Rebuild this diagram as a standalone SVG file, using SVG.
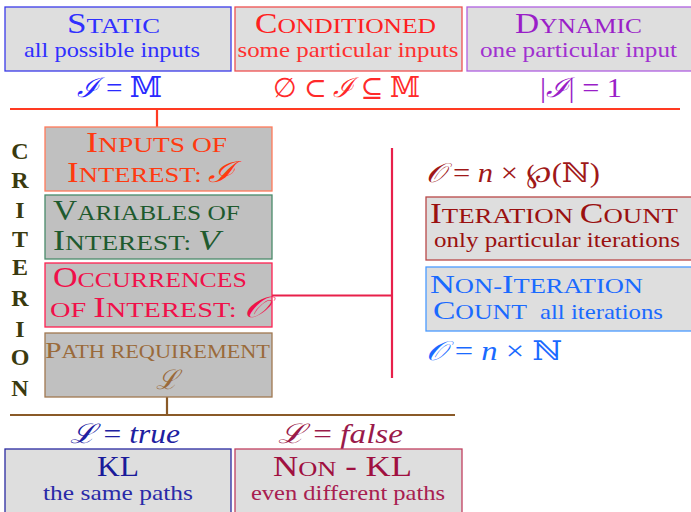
<svg xmlns="http://www.w3.org/2000/svg" width="691" height="512" viewBox="0 0 691 512" font-family="'Liberation Serif', 'Times New Roman', 'DejaVu Serif', serif">
<style>
text{font-family:'Liberation Serif','Times New Roman','DejaVu Serif',serif;}
.t{font-size:29px;text-anchor:middle;}
.sc{font-size:22px;}
.sub{font-size:22px;text-anchor:middle;}
.m{font-size:27px;text-anchor:middle;}
.it{font-style:italic;}
.lb{font-size:29px;}
.lsc{font-size:22px;}
.crit{font-size:24px;font-weight:bold;fill:#3a3a0e;text-anchor:middle;}
.boxL{fill:#dedede;stroke-width:1.3;}
.boxG{fill:#c0c0c0;stroke-width:1.3;}
</style>
<rect width="691" height="512" fill="#ffffff"/>

<g id="connectors" fill="none" stroke-width="2.2">
<path d="M10 109H680M157 109V127" stroke="#ff3a22"/>
<path d="M272 295.5H392M392 148V378" stroke="#e8204a"/>
<path d="M10 415H455M167 397V415" stroke="#8a5a28"/>
</g>

<g id="static">
<rect class="boxL" x="5" y="7" width="226" height="64" stroke="#3a3ae8"/>
<text class="t" x="113.5" y="33" fill="#3030ff" textLength="93" lengthAdjust="spacingAndGlyphs">S<tspan class="sc">TATIC</tspan></text>
<text class="sub" x="112" y="57" fill="#3030ff" textLength="176" lengthAdjust="spacingAndGlyphs">all possible inputs</text>
<text class="m" x="119.5" y="97" fill="#2a2aff" textLength="85" lengthAdjust="spacingAndGlyphs"><tspan class="it">ℐ</tspan> = 𝕄</text>
</g>

<g id="conditioned">
<rect class="boxL" x="235" y="7" width="227" height="64" stroke="#ee5050"/>
<text class="t" x="345.5" y="33" fill="#ff2020" textLength="181" lengthAdjust="spacingAndGlyphs">C<tspan class="sc">ONDITIONED</tspan></text>
<text class="sub" x="348" y="57" fill="#ff3030" textLength="221" lengthAdjust="spacingAndGlyphs">some particular inputs</text>
<text class="m" x="346.5" y="97" fill="#ff2a2a" textLength="147" lengthAdjust="spacingAndGlyphs">∅ ⊂ <tspan class="it">ℐ</tspan> ⊆ 𝕄</text>
</g>

<g id="dynamic">
<rect class="boxL" x="467" y="7" width="226" height="64" stroke="#b060e0"/>
<text class="t" x="578.5" y="33" fill="#9a1ec8" textLength="127" lengthAdjust="spacingAndGlyphs">D<tspan class="sc">YNAMIC</tspan></text>
<text class="sub" x="578.5" y="57" fill="#a030d0" textLength="197" lengthAdjust="spacingAndGlyphs">one particular input</text>
<text class="m" x="581" y="97" fill="#9a1ec8" textLength="82" lengthAdjust="spacingAndGlyphs">|<tspan class="it">ℐ</tspan>| = 1</text>
</g>

<g id="criterion">
<text class="crit" x="20" y="159">C</text>
<text class="crit" x="20" y="188">R</text>
<text class="crit" x="20" y="218">I</text>
<text class="crit" x="20" y="247">T</text>
<text class="crit" x="20" y="275">E</text>
<text class="crit" x="20" y="306">R</text>
<text class="crit" x="20" y="337">I</text>
<text class="crit" x="20" y="365">O</text>
<text class="crit" x="20" y="396">N</text>
</g>

<g id="inputs">
<rect class="boxG" x="45" y="127" width="227" height="64" stroke="#ff7a5a"/>
<text class="lb" x="86" y="152" fill="#ff3a10" textLength="141" lengthAdjust="spacingAndGlyphs">I<tspan class="lsc">NPUTS OF</tspan></text>
<text class="lb" x="67" y="182" fill="#ff3a10" textLength="168" lengthAdjust="spacingAndGlyphs">I<tspan class="lsc">NTEREST: </tspan><tspan class="it">ℐ</tspan></text>
</g>

<g id="variables">
<rect class="boxG" x="45" y="195" width="227" height="64" stroke="#4a8a6a"/>
<text class="lb" x="53" y="220" fill="#1e5a2e" textLength="187" lengthAdjust="spacingAndGlyphs">V<tspan class="lsc">ARIABLES OF</tspan></text>
<text class="lb" x="53" y="250" fill="#1e5a2e" textLength="167" lengthAdjust="spacingAndGlyphs">I<tspan class="lsc">NTEREST: </tspan><tspan class="it">V</tspan></text>
</g>

<g id="occurrences">
<rect class="boxG" x="45" y="263" width="227" height="64" stroke="#ff2050"/>
<text class="lb" x="53" y="287" fill="#f0104a" textLength="194" lengthAdjust="spacingAndGlyphs">O<tspan class="lsc">CCURRENCES</tspan></text>
<text class="lb" x="50" y="317" fill="#f0104a" textLength="217" lengthAdjust="spacingAndGlyphs"><tspan class="lsc">OF </tspan>I<tspan class="lsc">NTEREST: </tspan><tspan class="it">𝒪</tspan></text>
</g>

<g id="path">
<rect class="boxG" x="45" y="333" width="227" height="64" stroke="#a07850"/>
<text x="45" y="358" fill="#9a6a3a" font-size="24" textLength="225" lengthAdjust="spacingAndGlyphs">P<tspan font-size="18">ATH REQUIREMENT</tspan></text>
<text x="167" y="389" fill="#9a6a3a" font-size="27" font-style="italic" text-anchor="middle">ℒ</text>
</g>

<g id="iteration">
<text x="426" y="182" fill="#a01818" font-size="27" textLength="174" lengthAdjust="spacingAndGlyphs"><tspan class="it">𝒪</tspan> = <tspan class="it">n</tspan> × ℘(ℕ)</text>
<rect class="boxL" x="426" y="197" width="266" height="63" stroke="#b84848"/>
<text class="lb" x="430" y="223" fill="#9a1010" textLength="248" lengthAdjust="spacingAndGlyphs">I<tspan class="lsc">TERATION </tspan>C<tspan class="lsc">OUNT</tspan></text>
<text x="434" y="247" fill="#9a1010" font-size="22" textLength="246" lengthAdjust="spacingAndGlyphs">only particular iterations</text>
</g>

<g id="noniteration">
<rect class="boxL" x="426" y="267" width="266" height="64" stroke="#4a9aff"/>
<text x="430" y="293" fill="#1a6aff" font-size="26" textLength="213" lengthAdjust="spacingAndGlyphs">N<tspan font-size="20">ON-</tspan>I<tspan font-size="20">TERATION</tspan></text>
<text x="433" y="319" fill="#1a6aff" font-size="26" textLength="94" lengthAdjust="spacingAndGlyphs">C<tspan font-size="20">OUNT</tspan></text>
<text x="540" y="319" fill="#1a6aff" font-size="22" textLength="123" lengthAdjust="spacingAndGlyphs">all iterations</text>
<text x="426" y="360" fill="#1a6aff" font-size="27" textLength="136" lengthAdjust="spacingAndGlyphs"><tspan class="it">𝒪</tspan> = <tspan class="it">n</tspan> × ℕ</text>
</g>

<g id="kl">
<text x="125" y="443" fill="#2020a0" font-size="27" text-anchor="middle" textLength="110" lengthAdjust="spacingAndGlyphs"><tspan class="it">ℒ</tspan> = <tspan class="it">true</tspan></text>
<rect class="boxL" x="5" y="449" width="226" height="70" stroke="#2a2aa0"/>
<text x="118" y="476" fill="#1a1a9a" font-size="29" text-anchor="middle" textLength="42" lengthAdjust="spacingAndGlyphs">KL</text>
<text x="118" y="500" fill="#2a2aa8" font-size="22" text-anchor="middle" textLength="150" lengthAdjust="spacingAndGlyphs">the same paths</text>
</g>

<g id="nonkl">
<text x="340.5" y="443" fill="#9a1a4a" font-size="27" text-anchor="middle" textLength="125" lengthAdjust="spacingAndGlyphs"><tspan class="it">ℒ</tspan> = <tspan class="it">false</tspan></text>
<rect class="boxL" x="235" y="449" width="227" height="70" stroke="#c04060"/>
<text x="342.5" y="476" fill="#a01040" font-size="29" text-anchor="middle" textLength="139" lengthAdjust="spacingAndGlyphs">N<tspan font-size="22">ON</tspan> - KL</text>
<text x="348" y="500" fill="#a82050" font-size="22" text-anchor="middle" textLength="194" lengthAdjust="spacingAndGlyphs">even different paths</text>
</g>
</svg>
